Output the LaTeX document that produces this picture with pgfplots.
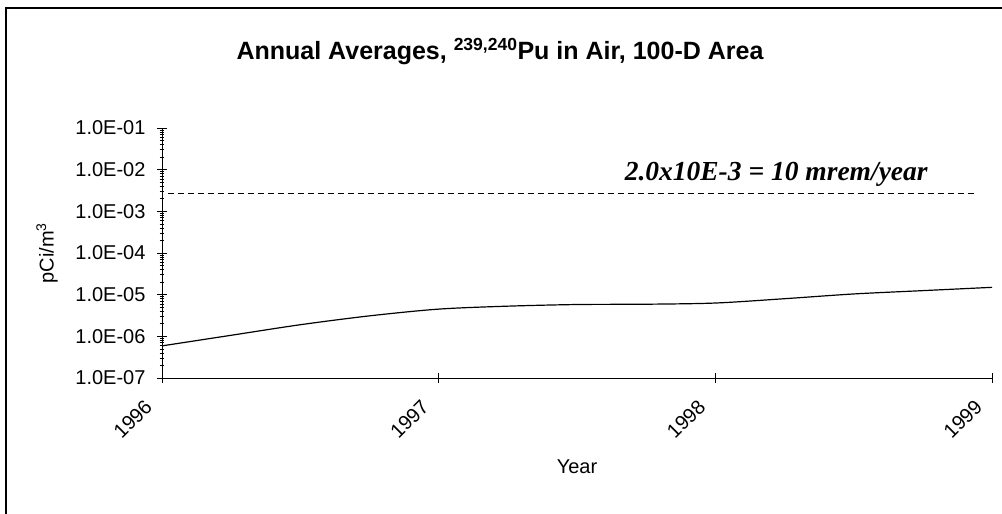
\documentclass[border=0pt]{standalone}
\usepackage{fontspec}
\setmainfont{Liberation Sans}
\newfontfamily\timesf{Liberation Serif}
\usepackage{pgfplots}
\pgfplotsset{compat=1.18}
\begin{document}
\begin{tikzpicture}
\useasboundingbox (0pt,0pt) rectangle (1002pt,514pt);
\draw[line width=1.5pt] (6pt,-2pt) -- (6pt,506pt) -- (1004pt,506pt);
\begin{axis}[
  at={(162pt,136pt)}, anchor=south west,
  scale only axis, width=830pt, height=250pt,
  ymode=log, xmin=1996, xmax=1999, ymin=1e-7, ymax=1e-1,
  axis x line=bottom, axis y line=left,
  axis line style={-, line width=0.9pt},
  every tick/.style={black, line width=0.7pt},
  xtick={1996,1997,1998,1999},
  xticklabels={1996,1997,1998,1999},
  xtick align=center, major tick length=10pt, minor tick length=5pt,
  ytick={1e-7,1e-6,1e-5,1e-4,1e-3,1e-2,1e-1},
  yticklabels={1.0E-07,1.0E-06,1.0E-05,1.0E-04,1.0E-03,1.0E-02,1.0E-01},
  minor ytick={2e-7,3e-7,4e-7,5e-7,6e-7,7e-7,8e-7,9e-7,
    2e-6,3e-6,4e-6,5e-6,6e-6,7e-6,8e-6,9e-6,
    2e-5,3e-5,4e-5,5e-5,6e-5,7e-5,8e-5,9e-5,
    2e-4,3e-4,4e-4,5e-4,6e-4,7e-4,8e-4,9e-4,
    2e-3,3e-3,4e-3,5e-3,6e-3,7e-3,8e-3,9e-3,
    2e-2,3e-2,4e-2,5e-2,6e-2,7e-2,8e-2,9e-2},
  tick label style={font=\fontsize{20}{20}\selectfont},
  /pgf/number format/assume math mode=true,
  yticklabel style={xshift=-8pt},
  xticklabel style={xshift=-11pt, yshift=-18pt, rotate=45, anchor=east},
  clip=false,
]
\addplot[black, line width=1.2pt, smooth, tension=0.5] coordinates {
  (1996,5.9e-7) (1996.25,1.06e-6) (1996.5,1.9e-6) (1996.75,3.1e-6)
  (1997,4.5e-6) (1997.25,5.3e-6) (1997.5,5.8e-6) (1997.75,5.9e-6)
  (1998,6.3e-6) (1998.25,8.0e-6) (1998.5,1.04e-5) (1998.75,1.25e-5)
  (1999,1.5e-5)};
\addplot[black, line width=0.9pt, dash pattern=on 6pt off 4pt] coordinates {
  (1996.02,2.7e-3) (1998.94,2.7e-3)};
\node[font=\timesf\bfseries\itshape\fontsize{27.5}{27.5}\selectfont] at (axis cs:1998.22,7.9e-3) {2.0x10E-3 = 10 mrem/year};
\end{axis}
\node[font=\bfseries\fontsize{25}{25}\selectfont] at (500pt,462pt) {Annual Averages, \textsuperscript{239,240}Pu in Air, 100-D Area};
\node[font=\fontsize{20}{20}\selectfont, rotate=90] at (47pt,261pt) {pCi/m\textsuperscript{3}};
\node[font=\fontsize{20}{20}\selectfont] at (577pt,47pt) {Year};
\end{tikzpicture}
\end{document}
